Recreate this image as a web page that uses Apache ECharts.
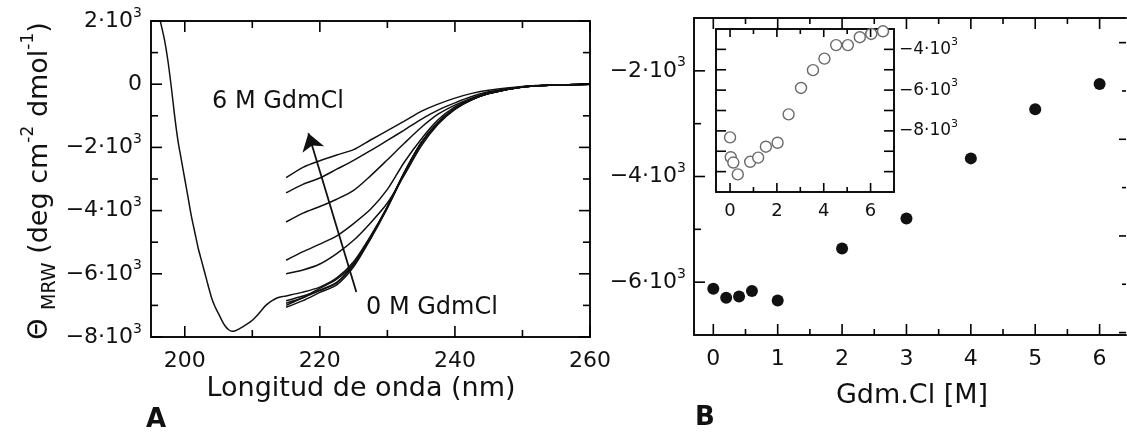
<!DOCTYPE html>
<html>
<head>
<meta charset="utf-8">
<script src="https://cdn.jsdelivr.net/npm/echarts@6/dist/echarts.min.js"></script>
<style>html,body{margin:0;padding:0;background:#fff}#c{width:1127px;height:438px}</style>
</head>
<body>
<div id="c"></div>
<script>
// ---------- Panel A data (wavelength nm, Theta MRW) ----------
const WL_FAR = [196.0,196.4,197.0,197.5,198.0,198.5,199.0,199.5,200.0,200.5,201.0,201.5,202.0,202.5,203.0,203.5,204.0,204.5,205.0,205.5,206.0,206.5,207.0,207.5,208.0,208.5,209.0,209.5,210.0,210.5,211.0,211.5,212.0,212.5,213.0,213.5,214.0,214.5];
const THETA_0M_FAR = [2300,1970,1400,750,-80,-1000,-1800,-2400,-3000,-3600,-4200,-4700,-5200,-5600,-6000,-6400,-6780,-7050,-7260,-7480,-7660,-7770,-7820,-7800,-7750,-7690,-7620,-7550,-7470,-7370,-7250,-7120,-7000,-6910,-6840,-6780,-6740,-6720];
const WL = [215,217.5,220,222.5,225,227.5,230,232.5,235,237.5,240,242.5,245,250,255,260];
const THETA_0M   = [-6700,-6580,-6420,-6130,-5620,-4810,-3870,-2790,-1850,-1210,-770,-480,-290,-90,-25,0];
const THETA_02M  = [-6850,-6700,-6530,-6290,-5700,-4850,-3880,-2800,-1860,-1220,-775,-485,-290,-90,-25,0];
const THETA_04M  = [-6930,-6760,-6520,-6270,-5720,-4870,-3900,-2820,-1870,-1225,-780,-490,-295,-92,-25,0];
const THETA_06M  = [-7000,-6750,-6460,-6170,-5680,-4840,-3890,-2810,-1860,-1215,-775,-485,-292,-90,-25,0];
const THETA_1M   = [-7060,-6850,-6590,-6350,-5780,-4900,-3920,-2830,-1880,-1230,-785,-490,-295,-92,-25,0];
const THETA_2M   = [-6000,-5880,-5690,-5360,-4940,-4390,-3760,-2880,-1960,-1270,-800,-495,-298,-92,-25,0];
const THETA_3M   = [-5570,-5300,-5060,-4800,-4410,-3960,-3330,-2470,-1740,-1130,-720,-460,-280,-90,-25,0];
const THETA_4M   = [-4360,-4080,-3870,-3640,-3360,-2900,-2390,-1870,-1370,-950,-660,-440,-270,-85,-25,0];
const THETA_5M   = [-3440,-3170,-2970,-2690,-2410,-2100,-1780,-1450,-1110,-820,-590,-390,-240,-80,-25,0];
const THETA_6M   = [-2960,-2630,-2420,-2240,-2070,-1765,-1470,-1170,-860,-630,-440,-290,-190,-70,-20,0];
const ARROW_FROM = [225.4,-6576];
const ARROW_TO   = [218.3,-1550];

// ---------- Panel B data ----------
const GDM_B   = [0,0.2,0.4,0.6,1,2,3,4,5,6];
const THETA_B = [-6123,-6294,-6270,-6169,-6345,-5364,-4795,-3657,-2727,-2247];
// inset
const GDM_IN   = [0,0.03,0.14,0.33,0.86,1.2,1.53,2.03,2.5,3.03,3.54,4.03,4.53,5.03,5.54,6.03,6.53];
const THETA_IN = [-8320,-9291,-9553,-10136,-9519,-9311,-8777,-8583,-7189,-5893,-5019,-4456,-3791,-3791,-3403,-3243,-3112];

// ---------- tick values ----------
const XA_MAJOR = [200,220,240,260], XA_MINOR = [210,230,250];
const YA_MAJOR = [-8000,-6000,-4000,-2000,0,2000], YA_MINOR = [-7000,-5000,-3000,-1000,1000];
const XB_MAJOR = [0,1,2,3,4,5,6], XB_MINOR = [0.5,1.5,2.5,3.5,4.5,5.5];
const YB_MAJOR = [-6000,-4000,-2000], YB_MINOR = [-5000,-3000];
const YB_R_MAJOR = [0,2,4,6], YB_R_MINOR = [1,3,5];
const XI_MAJOR = [0,2,4,6], XI_MINOR = [1,3,5];
const YI_TICKS = [-10000,-9000,-8000,-7000,-6000,-5000,-4000], YI_LABELS = [-8000,-6000,-4000];

// axis extents
const A_X = [195, 260], A_Y = [-8000, 2000];
const B_X = [-0.3, 6.41], B_Y = [-7000, -1000], B_YR = [-0.05, 6.51];
const I_X = [-0.6, 7], I_Y = [-11000, -3000];

const FONT = '"DejaVu Sans", "Liberation Sans", Arial, sans-serif';
const BLACK = '#111';

function expLabel(v) {
  if (v === 0) return '0';
  return (v < 0 ? '\u2212' : '') + (Math.abs(v) / 1000) + '\u00B710{s|3}';
}
const expStyle = (fs, sfs, margin) => ({
  fontSize: fs, margin: margin, lineHeight: fs + 8, formatter: expLabel,
  rich: { s: { fontSize: sfs, lineHeight: sfs, verticalAlign: 'top', fontFamily: FONT, color: BLACK } }
});

function axis(gridIndex, position, ext, label, showLine) {
  return {
    type: 'value', gridIndex, position, min: ext[0], max: ext[1], splitLine: { show: false },
    axisLine: { show: showLine !== false, onZero: false, lineStyle: { color: BLACK, width: 2 } },
    axisTick: { show: false },
    axisLabel: label ? Object.assign({ show: true, customValues: label.values, color: BLACK, fontFamily: FONT }, label.style) : { show: false }
  };
}

const xAxes = [
  axis(0, 'bottom', A_X, { values: XA_MAJOR, style: { fontSize: 22, margin: 13 } }),
  axis(0, 'top', A_X, null),
  axis(1, 'bottom', B_X, { values: XB_MAJOR, style: { fontSize: 22, margin: 13 } }),
  axis(1, 'top', B_X, null),
  axis(2, 'bottom', I_X, { values: XI_MAJOR, style: { fontSize: 18, margin: 10 } }),
  axis(2, 'top', I_X, null)
];
const yAxes = [
  axis(0, 'left', A_Y, { values: YA_MAJOR, style: expStyle(22, 14, 9) }),
  axis(0, 'right', A_Y, null),
  axis(1, 'left', B_Y, { values: YB_MAJOR, style: expStyle(22, 14, 8) }),
  axis(1, 'right', B_YR, null, false),
  axis(2, 'right', I_Y, { values: YI_LABELS, style: expStyle(17, 11, 5) }),
  axis(2, 'left', I_Y, null)
];

function pairs(xs, ys) { return xs.map((x, i) => [x, ys[i]]); }

// tick marks (inward), placed through the axes' own scales. dir: 0 up, 1 down, 2 right, 3 left
function xTicks(vals, ext, len) {
  return vals.map(v => [v, ext[0], len, 0]).concat(vals.map(v => [v, ext[1], len, 1]));
}
function yTicks(vals, ext, len) {
  return vals.map(v => [ext[0], v, len, 2]).concat(vals.map(v => [ext[1], v, len, 3]));
}
function renderTick(params, api) {
  const p = api.coord([api.value(0), api.value(1)]);
  const len = api.value(2), dir = api.value(3);
  const dx = dir === 2 ? 1 : dir === 3 ? -1 : 0;
  const dy = dir === 0 ? -1 : dir === 1 ? 1 : 0;
  return { type: 'line', shape: { x1: p[0], y1: p[1], x2: p[0] + dx * len, y2: p[1] + dy * len },
           style: { stroke: '#000', lineWidth: 1.6 } };
}
function tickSeries(xi, yi, data) {
  return { type: 'custom', xAxisIndex: xi, yAxisIndex: yi, data, renderItem: renderTick,
           silent: true, clip: false, z: 50, zlevel: 1, encode: { x: 0, y: 1 } };
}

const ticksA = [].concat(
  xTicks(XA_MAJOR, A_Y, 11), xTicks(XA_MINOR, A_Y, 7),
  yTicks(YA_MAJOR, A_X, 11), yTicks(YA_MINOR, A_X, 7)
);
const ticksB = [].concat(
  xTicks(XB_MAJOR, B_Y, 11), xTicks(XB_MINOR, B_Y, 6),
  YB_MAJOR.map(v => [B_X[0], v, 11, 2]), YB_MINOR.map(v => [B_X[0], v, 7, 2])
);
const ticksBRight = [].concat(
  YB_R_MAJOR.map(v => [B_X[1], v, 7, 3]), YB_R_MINOR.map(v => [B_X[1], v, 4, 3])
);
const ticksI = [].concat(
  XI_MAJOR.map(v => [v, I_Y[0], 9, 0]), XI_MAJOR.map(v => [v, I_Y[1], 8, 1]),
  xTicks(XI_MINOR, I_Y, 5),
  yTicks(YI_TICKS, I_X, 10)
);

function curve(name, data) {
  return { name, type: 'line', xAxisIndex: 0, yAxisIndex: 0, data, showSymbol: false, symbol: 'none',
           smooth: 0.25, lineStyle: { color: BLACK, width: 1.5 } };
}

const series = [
  curve('0 M', pairs(WL_FAR, THETA_0M_FAR).concat(pairs(WL, THETA_0M))),
  curve('0.2 M', pairs(WL, THETA_02M)),
  curve('0.4 M', pairs(WL, THETA_04M)),
  curve('0.6 M', pairs(WL, THETA_06M)),
  curve('1 M', pairs(WL, THETA_1M)),
  curve('2 M', pairs(WL, THETA_2M)),
  curve('3 M', pairs(WL, THETA_3M)),
  curve('4 M', pairs(WL, THETA_4M)),
  curve('5 M', pairs(WL, THETA_5M)),
  curve('6 M', pairs(WL, THETA_6M))
];
series[9].markLine = {
  silent: true, animation: false, symbol: ['none', 'arrow'], symbolSize: 17,
  label: { show: false },
  lineStyle: { color: BLACK, width: 1.8, type: 'solid' },
  data: [[{ coord: ARROW_FROM }, { coord: ARROW_TO }]]
};
series.push({
  name: 'B', type: 'scatter', xAxisIndex: 2, yAxisIndex: 2, data: pairs(GDM_B, THETA_B),
  symbol: 'circle', symbolSize: 12, itemStyle: { color: BLACK, opacity: 1 }
});
series.push({
  name: 'inset', type: 'scatter', xAxisIndex: 4, yAxisIndex: 4, data: pairs(GDM_IN, THETA_IN),
  symbol: 'circle', symbolSize: 11, itemStyle: { color: '#fff', borderColor: '#6a6a6a', borderWidth: 1.4, opacity: 1 }
});
series.push(tickSeries(0, 0, ticksA));
series.push(tickSeries(2, 2, ticksB));
series.push(tickSeries(2, 3, ticksBRight));
series.push(tickSeries(4, 4, ticksI));

const titleFont = 27;
const option = {
  animation: false,
  grid: [
    { left: 151, top: 21, width: 439, height: 316 },
    { left: 694, top: 18, width: 432, height: 317 },
    { left: 716, top: 29, width: 178, height: 163 }
  ],
  xAxis: xAxes,
  yAxis: yAxes,
  series: series,
  graphic: [
    { type: 'text', x: 361, y: 389, style: { text: 'Longitud de onda (nm)', fontFamily: FONT, fontSize: titleFont, fill: BLACK, align: 'center', verticalAlign: 'middle' } },
    { type: 'text', x: 912, y: 396, style: { text: 'Gdm.Cl [M]', fontFamily: FONT, fontSize: titleFont, fill: BLACK, align: 'center', verticalAlign: 'middle' } },
    { type: 'text', x: 156, y: 420, style: { text: 'A', fontFamily: FONT, fontSize: 26, fontWeight: 'bold', fill: BLACK, align: 'center', verticalAlign: 'middle' } },
    { type: 'text', x: 705, y: 418, style: { text: 'B', fontFamily: FONT, fontSize: 26, fontWeight: 'bold', fill: BLACK, align: 'center', verticalAlign: 'middle' } },
    { type: 'text', x: 212, y: 102, style: { text: '6 M GdmCl', fontFamily: FONT, fontSize: 24, fill: BLACK, align: 'left', verticalAlign: 'middle' } },
    { type: 'text', x: 366, y: 308, style: { text: '0 M GdmCl', fontFamily: FONT, fontSize: 24, fill: BLACK, align: 'left', verticalAlign: 'middle' } },
    { type: 'text', x: 40, y: 181, rotation: Math.PI / 2,
      style: {
        text: '{t|\u0398} {m|MRW} {t|(deg cm}{p|-2}{t| dmol}{p|-1}{t|)}',
        fontFamily: FONT, fontSize: titleFont, fill: BLACK, align: 'center', verticalAlign: 'middle',
        rich: {
          t: { fontFamily: FONT, fontSize: titleFont, lineHeight: 40, fill: BLACK },
          m: { fontFamily: FONT, fontSize: 19, lineHeight: 30, verticalAlign: 'bottom', fill: BLACK },
          p: { fontFamily: FONT, fontSize: 17, lineHeight: 22, verticalAlign: 'top', fill: BLACK }
        }
      } }
  ]
};

const chart = echarts.init(document.getElementById('c'), null, { renderer: 'canvas' });
chart.setOption(option);
</script>
</body>
</html>
